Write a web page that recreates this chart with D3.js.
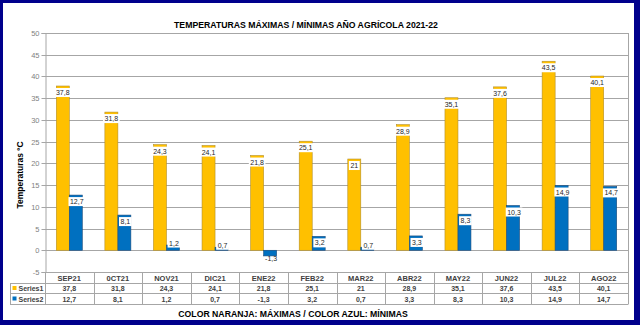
<!DOCTYPE html>
<html>
<head>
<meta charset="utf-8">
<script src="https://cdn.jsdelivr.net/npm/d3@7/dist/d3.min.js"></script>
<style>
html,body{margin:0;padding:0;background:#fff;}
svg{display:block;}
text{font-family:"Liberation Sans",Arial,sans-serif;}
</style>
</head>
<body>
<svg id="chart" width="640" height="325"></svg>
<script>
const categories = ["SEP21","0CT21","NOV21","DIC21","ENE22","FEB22","MAR22","ABR22","MAY22","JUN22","JUL22","AGO22"];
const series1 = [37.8,31.8,24.3,24.1,21.8,25.1,21,28.9,35.1,37.6,43.5,40.1];
const series2 = [12.7,8.1,1.2,0.7,-1.3,3.2,0.7,3.3,8.3,10.3,14.9,14.7];
const seriesNames = ["Series1","Series2"];
const yTicks = [-5,0,5,10,15,20,25,30,35,40,45,50];
const title = "TEMPERATURAS MÁXIMAS / MÍNIMAS AÑO AGRÍCOLA 2021-22";
const yTitle = "Temperaturas ºC";
const footer = "COLOR NARANJA: MÁXIMAS / COLOR AZUL: MÍNIMAS";

(function(){
const colors = ["#FFC000","#0070C0"];
const strokes = ["#b38f2a","#1b4a7a"];
const fmt = v => String(v).replace(".", ",");

const svg = d3.select("#chart");
const W = 640, H = 325;

// frame
svg.append("rect").attr("x",0).attr("y",0).attr("width",W).attr("height",H).attr("fill","#00008c");
svg.append("rect").attr("x",3).attr("y",3).attr("width",631).attr("height",317).attr("fill","#ffffff");

const pL = 45, pR = 628, pT = 33, pB = 272;
const y = d3.scaleLinear().domain([-5,50]).range([pB, pT]);
const x = d3.scaleBand().domain(categories).range([pL, pR]);
const bw = x.bandwidth() * 13 / 48.6;

const grid = "#a6a6a6";

// gridlines
svg.append("g").selectAll("line").data(yTicks).join("line")
  .attr("x1", pL).attr("x2", pR)
  .attr("y1", d => Math.round(y(d))+0.5).attr("y2", d => Math.round(y(d))+0.5)
  .attr("stroke", grid).attr("stroke-width", 1);

// y axis
const yAxis = d3.axisLeft(y).tickValues(yTicks).tickSize(4).tickPadding(2).tickFormat(d => d);
const ag = svg.append("g").attr("transform", `translate(${pL+0.5},0)`).call(yAxis);
ag.select(".domain").attr("stroke", grid);
ag.selectAll(".tick line").attr("stroke", grid);
ag.selectAll(".tick text").attr("fill", "#7f7f7f").style("font-size","7.5px")
  .style("font-family",'"Liberation Sans",Arial,sans-serif');
ag.selectAll(".tick").attr("transform", d => `translate(0,${Math.round(y(d))+0.5})`);

// right border
svg.append("line").attr("x1", pR+0.5).attr("x2", pR+0.5).attr("y1", pT).attr("y2", 304.5)
  .attr("stroke", grid);

// bars
const data = categories.map((c,i) => ({c, v:[series1[i], series2[i]]}));
const barsG = svg.append("g");
[0,1].forEach(s => {
  barsG.selectAll(".b"+s).data(data).join("rect")
    .attr("class","b"+s)
    .attr("x", d => x(d.c) + x.bandwidth()/2 - (s===0 ? bw : 0))
    .attr("y", d => y(Math.max(0, d.v[s])))
    .attr("width", bw)
    .attr("height", d => Math.abs(y(d.v[s]) - y(0)))
    .attr("fill", colors[s])
    .attr("stroke", strokes[s]).attr("stroke-width", 0.6);
});

// labels
const labG = svg.append("g");
[0,1].forEach(s => {
  data.forEach(d => {
    const v = d.v[s];
    const cx = x(d.c) + x.bandwidth()/2 + (s===0 ? -bw/2 : bw/2 + 1);
    const hpx = Math.abs(y(v) - y(0));
    let cy;
    if (v >= 0) cy = hpx < 12 ? y(v) - 2 : y(v) + 6.5;
    else cy = y(v) + 2.5;
    const t = labG.append("text").attr("x", cx).attr("y", cy + 2.5)
      .attr("text-anchor","middle").style("font-size","7px").attr("fill","#262626")
      .text(fmt(v));
    const w = t.node().getComputedTextLength();
    labG.insert("rect", () => t.node())
      .attr("x", cx - w/2 - 1.5).attr("y", cy - 4.5).attr("width", w + 3).attr("height", 9)
      .attr("fill", v < 0 ? "none" : "#ffffff");
  });
});

// table
const tg = svg.append("g");
[283.5, 293.5, 304.5].forEach(yy => {
  tg.append("line").attr("x1", 10).attr("x2", pR).attr("y1", yy).attr("y2", yy).attr("stroke", grid);
});
tg.append("line").attr("x1", 10.5).attr("x2", 10.5).attr("y1", 283.5).attr("y2", 304.5).attr("stroke", grid);
const bounds = categories.map(c => x(c));
tg.selectAll(".vd").data(bounds.slice(1)).join("line").attr("class","vd")
  .attr("x1", d => Math.round(d)+0.5).attr("x2", d => Math.round(d)+0.5)
  .attr("y1", 272).attr("y2", 304.5).attr("stroke", grid);
tg.append("line").attr("x1", pL+0.5).attr("x2", pL+0.5).attr("y1", 272).attr("y2", 304.5).attr("stroke", grid);

tg.selectAll(".cl").data(categories).join("text").attr("class","cl")
  .attr("x", d => x(d) + x.bandwidth()/2).attr("y", 280.5)
  .attr("text-anchor","middle").style("font-size","7.5px").style("font-weight","bold")
  .attr("fill","#404040").text(d => d);
[series1, series2].forEach((arr, s) => {
  tg.selectAll(".v"+s).data(arr).join("text").attr("class","v"+s)
    .attr("x", (d,i) => x(categories[i]) + x.bandwidth()/2).attr("y", 291 + s*10.5)
    .attr("text-anchor","middle").style("font-size","7px").style("font-weight","bold")
    .attr("fill","#404040").text(d => fmt(d));
  tg.append("rect").attr("x", 12.5).attr("y", 286 + s*10.5).attr("width", 4).attr("height", 4)
    .attr("fill", colors[s]);
  tg.append("text").attr("x", 18.5).attr("y", 291 + s*10.5)
    .style("font-size","7px").style("font-weight","bold").attr("fill","#404040").text(seriesNames[s]);
});

// titles
svg.append("text").attr("x", 306).attr("y", 28).attr("text-anchor","middle")
  .style("font-size","8.7px").style("font-weight","bold").attr("fill","#000").text(title);
svg.append("text").attr("transform","translate(23,175) rotate(-90)").attr("text-anchor","middle")
  .style("font-size","8.5px").style("font-weight","bold").attr("fill","#000").text(yTitle);
svg.append("text").attr("x", 293).attr("y", 317).attr("text-anchor","middle")
  .style("font-size","8.7px").style("font-weight","bold").attr("fill","#000").text(footer);
})();
</script>
</body>
</html>
